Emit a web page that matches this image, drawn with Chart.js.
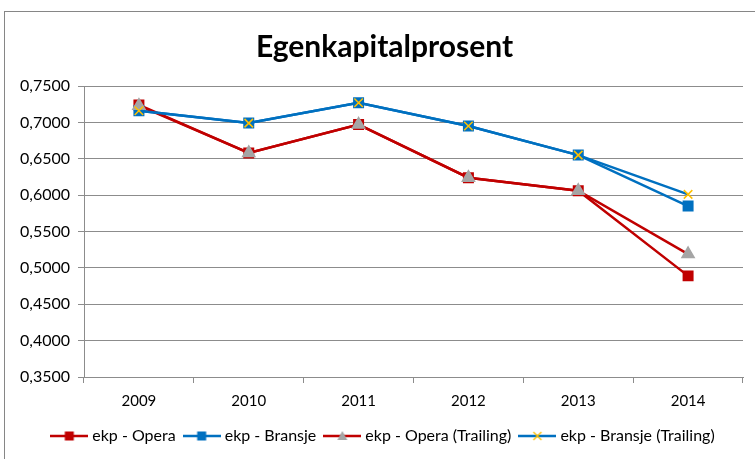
<!DOCTYPE html>
<html>
<head>
<meta charset="utf-8">
<script src="https://cdn.jsdelivr.net/npm/chart.js@4"></script>
<style>
  html, body { margin: 0; padding: 0; background: #fff; overflow: hidden; }
  #wrap { position: relative; width: 755px; height: 459px; }
  #frame { position: absolute; left: 4px; top: 11px; width: 800px; height: 500px; border: 1px solid #868686; box-sizing: border-box; }
  canvas { position: absolute; left: 0; top: 0; }
</style>
</head>
<body>
<div id="wrap">
  <div id="frame"></div>
  <canvas id="myChart" width="755" height="459"></canvas>
</div>
<script>
// Data
const years = ['2009', '2010', '2011', '2012', '2013', '2014'];
const opera = [0.724, 0.658, 0.697, 0.624, 0.606, 0.489];
const bransje = [0.716, 0.699, 0.727, 0.695, 0.655, 0.585];
const operaTrailing = [0.723, 0.658, 0.697, 0.624, 0.606, 0.519];
const bransjeTrailing = [0.716, 0.699, 0.727, 0.695, 0.655, 0.601];

const RED = '#C00000';
const BLUE = '#0070C0';
const GREY = '#A5A5A5';
const YELLOW = '#FFC000';
const GRID = '#8C8C8C';
const FONT = 'Lato, "Open Sans", sans-serif';

// small canvas used as legend symbol: line with marker in the middle
function legendSymbol(lineColor, style, fill, stroke) {
    const c = document.createElement('canvas');
    c.width = 38;
    c.height = 14;
    const g = c.getContext('2d');
    const m = 19;
    g.strokeStyle = lineColor;
    g.lineWidth = 2.5;
    g.beginPath();
    g.moveTo(0, 7);
    g.lineTo(38, 7);
    g.stroke();
    if (style === 'rect') {
        g.fillStyle = fill;
        g.fillRect(m - 4.5, 2.5, 9, 9);
    } else if (style === 'triangle') {
        g.fillStyle = fill;
        g.beginPath();
        g.moveTo(m, 2);
        g.lineTo(m + 5, 11);
        g.lineTo(m - 5, 11);
        g.closePath();
        g.fill();
    } else if (style === 'crossRot') {
        g.strokeStyle = stroke;
        g.lineWidth = 1.3;
        g.beginPath();
        g.moveTo(m - 4, 3); g.lineTo(m + 4, 11);
        g.moveTo(m + 4, 3); g.lineTo(m - 4, 11);
        g.stroke();
    }
    return c;
}

const datasets = [
    {
        label: 'ekp - Opera',
        data: opera,
        borderColor: RED,
        backgroundColor: RED,
        pointStyle: 'rect',
        pointRadius: 6,
        pointBorderColor: RED,
        pointBackgroundColor: RED,
        order: 3,
        symbol: legendSymbol(RED, 'rect', RED)
    },
    {
        label: 'ekp - Bransje',
        data: bransje,
        borderColor: BLUE,
        backgroundColor: BLUE,
        pointStyle: 'rect',
        pointRadius: 6,
        pointBorderColor: BLUE,
        pointBackgroundColor: BLUE,
        order: 2,
        symbol: legendSymbol(BLUE, 'rect', BLUE)
    },
    {
        label: 'ekp - Opera (Trailing)',
        data: operaTrailing,
        borderColor: RED,
        backgroundColor: GREY,
        pointStyle: 'triangle',
        pointRadius: 6,
        pointBorderColor: GREY,
        pointBackgroundColor: GREY,
        order: 1,
        symbol: legendSymbol(RED, 'triangle', GREY)
    },
    {
        label: 'ekp - Bransje (Trailing)',
        data: bransjeTrailing,
        borderColor: BLUE,
        backgroundColor: YELLOW,
        pointStyle: 'crossRot',
        pointRadius: 6,
        pointBorderWidth: 1.5,
        pointBorderColor: YELLOW,
        pointBackgroundColor: YELLOW,
        order: 0,
        symbol: legendSymbol(BLUE, 'crossRot', null, YELLOW)
    }
];

datasets.forEach(ds => {
    ds.borderWidth = 2.5;
    ds.tension = 0;
    ds.fill = false;
});

// Excel centres title and legend a bit further right than Chart.js does
const shiftBoxes = {
    id: 'shiftBoxes',
    afterLayout(chart) {
        chart.titleBlock.left += 22;
        chart.legend.left += 22;
    }
};

const ctx = document.getElementById('myChart').getContext('2d');
new Chart(ctx, {
    type: 'line',
    data: {
        labels: years,
        datasets: datasets
    },
    plugins: [shiftBoxes],
    options: {
        responsive: false,
        animation: false,
        layout: {
            padding: { left: 4, right: 12, top: 0, bottom: 5 }
        },
        plugins: {
            title: {
                display: true,
                text: 'Egenkapitalprosent',
                color: '#000',
                font: { family: FONT, size: 30, weight: 'bold' },
                padding: { top: 29, bottom: 21 }
            },
            legend: {
                position: 'bottom',
                labels: {
                    usePointStyle: true,
                    pointStyleWidth: 30,
                    padding: 11,
                    color: '#000',
                    font: { family: FONT, size: 16 },
                    generateLabels(chart) {
                        return chart.data.datasets.map((ds, i) => ({
                            text: ds.label,
                            pointStyle: ds.symbol,
                            fillStyle: ds.borderColor,
                            strokeStyle: ds.borderColor,
                            lineWidth: 0,
                            fontColor: '#000',
                            hidden: !chart.isDatasetVisible(i),
                            datasetIndex: i
                        }));
                    }
                }
            },
            tooltip: { enabled: false }
        },
        scales: {
            x: {
                offset: true,
                grid: {
                    offset: true,
                    drawOnChartArea: false,
                    tickLength: 6,
                    color: GRID
                },
                border: { color: GRID },
                ticks: {
                    color: '#000',
                    padding: 9,
                    font: { family: FONT, size: 15 }
                },
                afterFit(scale) {
                    scale.height = 40;
                }
            },
            y: {
                min: 0.35,
                max: 0.75,
                grid: {
                    color: GRID,
                    tickLength: 6
                },
                border: { color: GRID },
                ticks: {
                    stepSize: 0.05,
                    color: '#000',
                    padding: 8,
                    font: { family: FONT, size: 16 },
                    callback: v => v.toFixed(4).replace('.', ',')
                },
                afterFit(scale) {
                    scale.width = 80;
                }
            }
        }
    }
});
</script>
</body>
</html>
